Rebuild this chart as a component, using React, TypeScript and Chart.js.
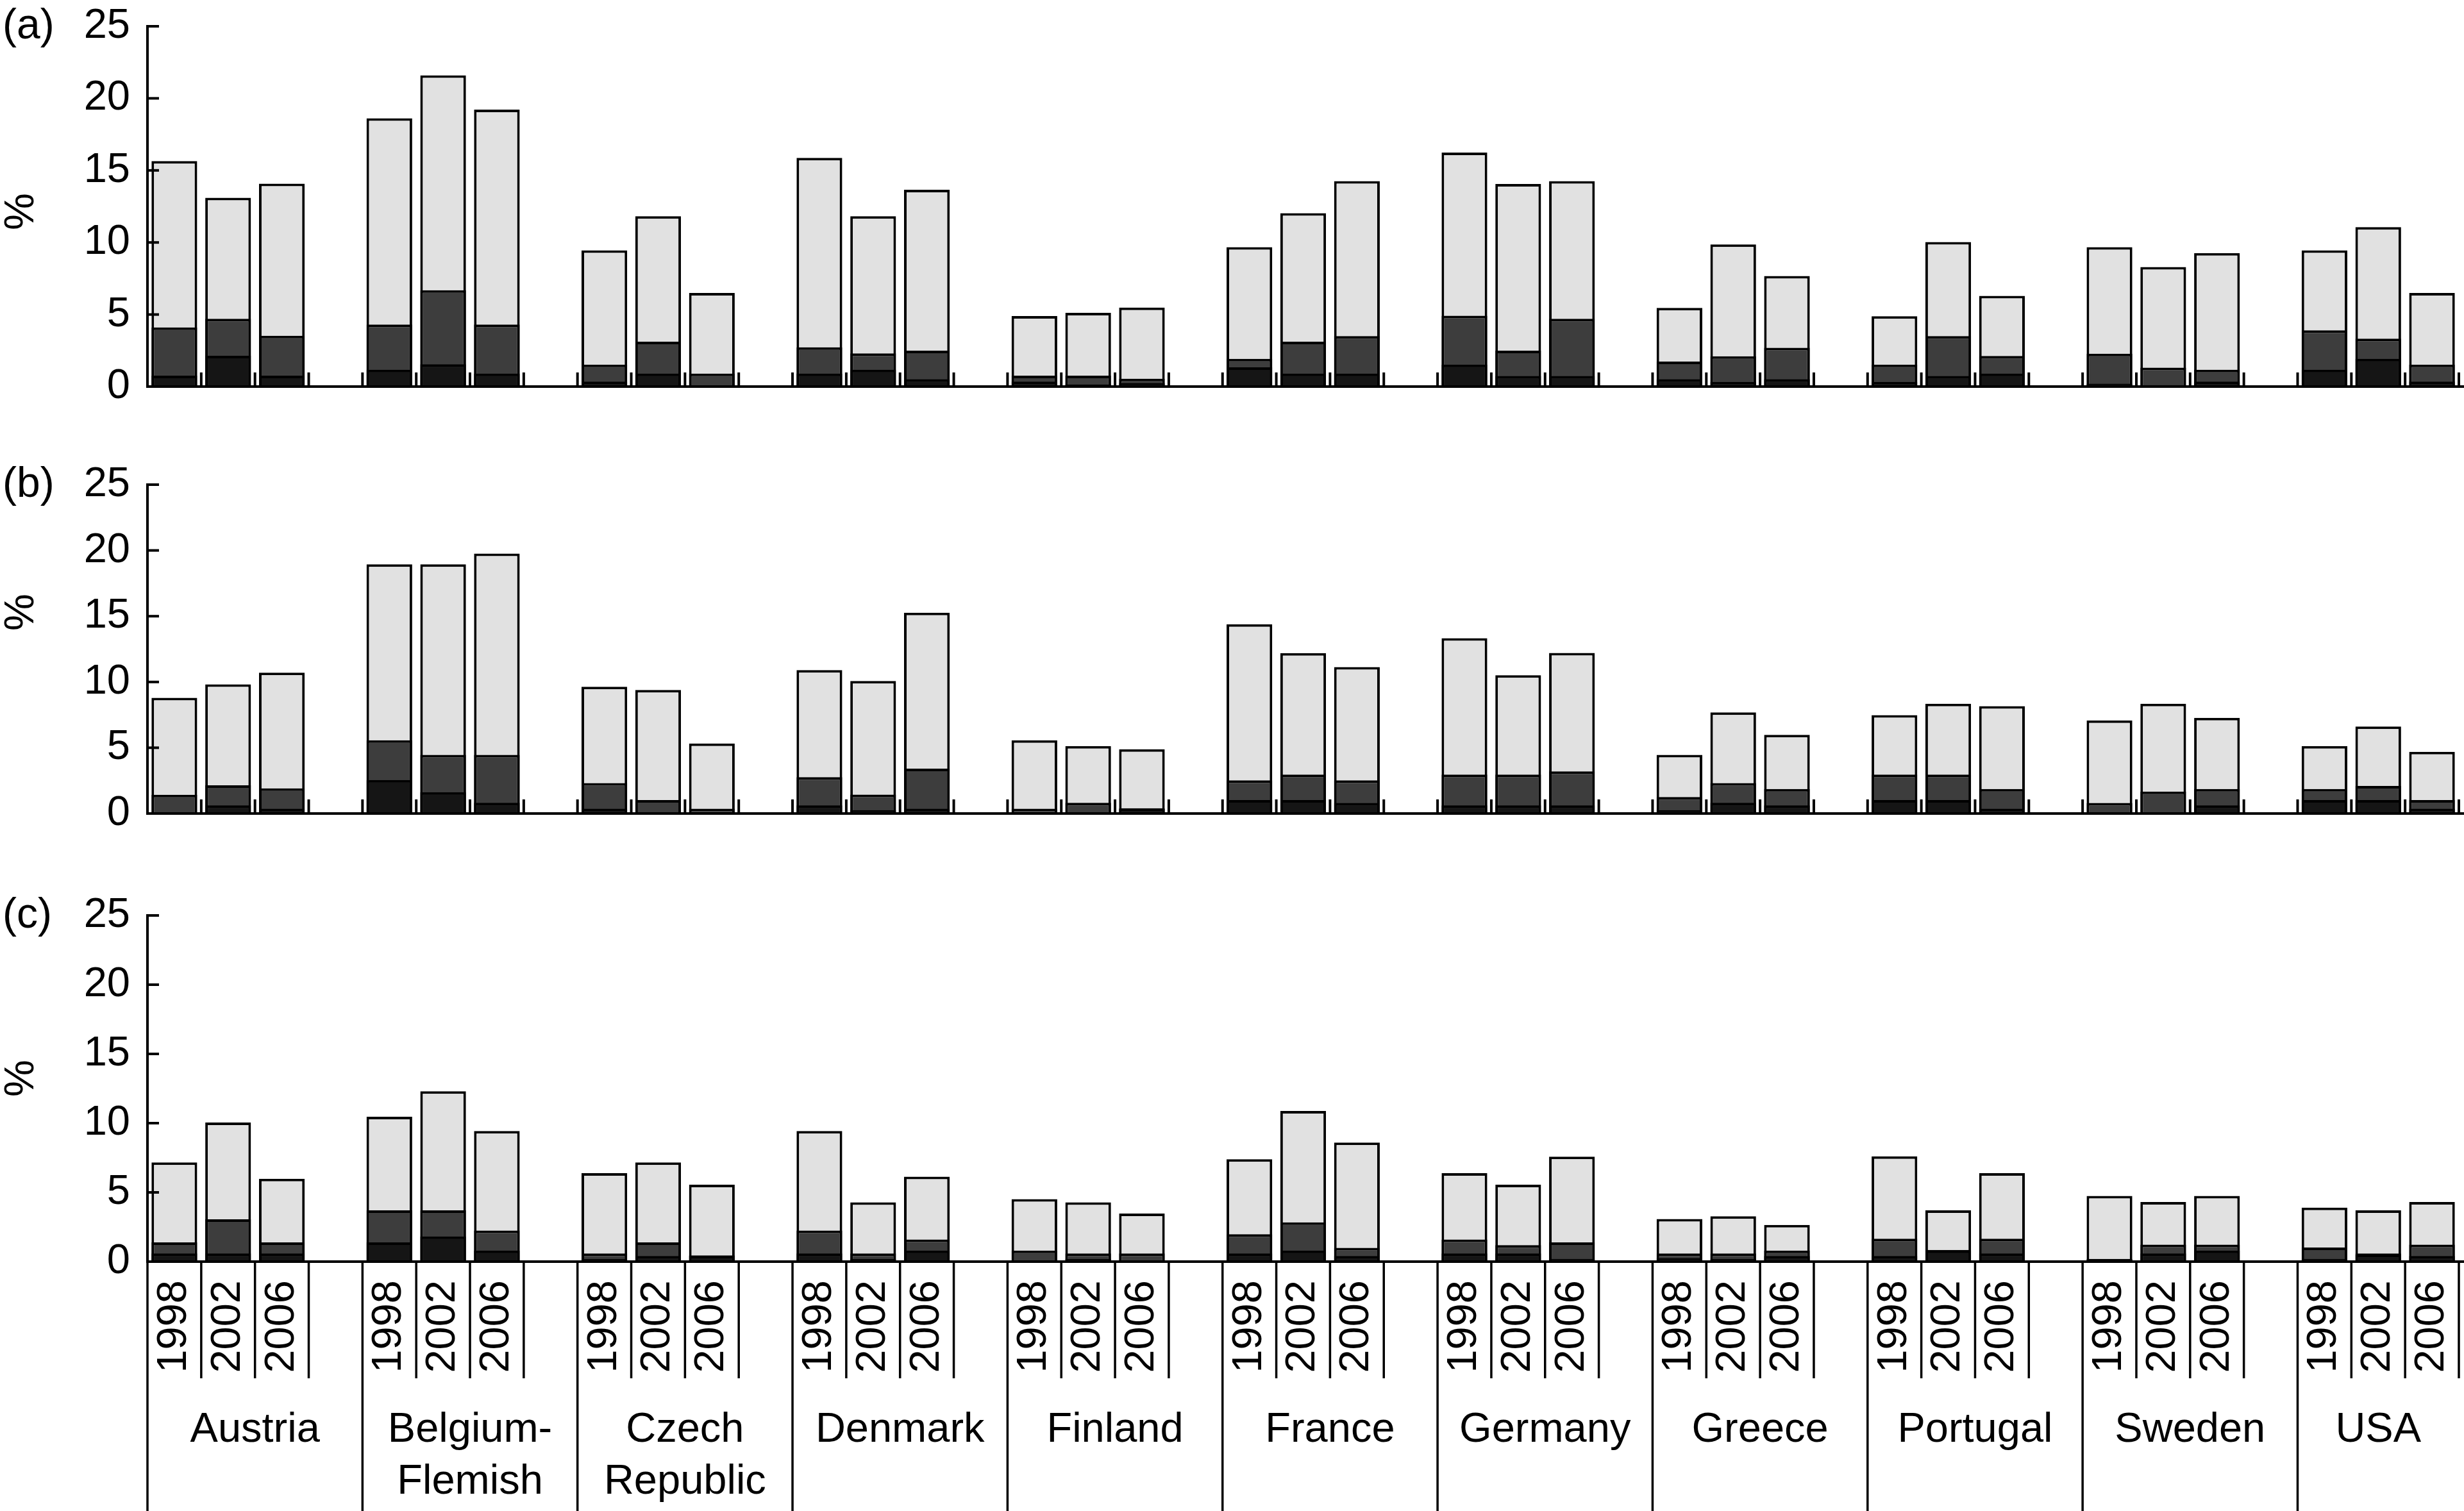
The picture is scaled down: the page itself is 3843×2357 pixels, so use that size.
import React, { useEffect, useRef } from 'react';
import { Chart, registerables } from 'chart.js';

Chart.register(...registerables);

const W = 3843;
const H = 2357;
const FONT = "'Liberation Sans', Arial, Helvetica, sans-serif";

// ---------- data ----------
const countries: string[][] = [
  ['Austria'],
  ['Belgium-', 'Flemish'],
  ['Czech', 'Republic'],
  ['Denmark'],
  ['Finland'],
  ['France'],
  ['Germany'],
  ['Greece'],
  ['Portugal'],
  ['Sweden'],
  ['USA'],
];
const years = ['1998', '2002', '2006'];
const yTickStep = 5;
const yMax = 25;

// panel (a): cumulative heights (top of light bar, top of dark segment, top of black segment)
const aTotal = [15.65, 13.1, 14.08, 18.62, 21.6, 19.22, 9.45, 11.82, 6.5, 15.87, 11.82, 13.66, 4.89, 5.12, 5.48, 9.68, 12.03, 14.26, 16.24, 14.06, 14.26, 5.46, 9.86, 7.67, 4.88, 10.03, 6.29, 9.68, 8.3, 9.26, 9.45, 11.06, 6.5];
const aMid = [4.1, 4.7, 3.53, 4.3, 6.68, 4.3, 1.52, 3.11, 0.9, 2.72, 2.3, 2.49, 0.76, 0.76, 0.55, 1.92, 3.11, 3.5, 4.91, 2.49, 4.7, 1.73, 2.1, 2.69, 1.52, 3.5, 2.12, 2.28, 1.31, 1.17, 3.9, 3.32, 1.52];
const aLow = [0.76, 2.14, 0.76, 1.17, 1.55, 0.9, 0.34, 0.9, null, 0.9, 1.17, 0.51, 0.34, 0.15, 0.25, 1.34, 0.9, 0.9, 1.52, 0.73, 0.73, 0.51, 0.32, 0.51, 0.32, 0.73, 0.9, 0.2, 0.1, 0.34, 1.17, 1.92, 0.34];

// panel (b)
const bTotal = [8.8, 9.82, 10.71, 18.95, 18.95, 19.76, 9.64, 9.39, 5.33, 10.9, 10.07, 15.27, 5.57, 5.13, 4.89, 14.39, 12.19, 11.14, 13.33, 10.52, 12.21, 4.46, 7.69, 5.98, 7.48, 8.35, 8.16, 7.08, 8.35, 7.27, 5.13, 6.62, 4.69];
const bMid = [1.42, 2.15, 1.91, 5.57, 4.46, 4.46, 2.31, 1.02, 0.37, 2.76, 1.44, 3.41, 0.37, 0.82, 0.4, 2.52, 2.96, 2.52, 2.96, 2.96, 3.2, 1.26, 2.31, 1.87, 2.96, 2.96, 1.87, 0.81, 1.67, 1.87, 1.87, 2.1, 1.02];
const bLow = [null, 0.62, 0.37, 2.55, 1.62, 0.82, 0.37, null, null, 0.62, 0.25, 0.37, null, null, 0.35, 1.02, 1.02, 0.81, 0.62, 0.62, 0.62, 0.25, 0.82, 0.62, 1.02, 1.02, 0.37, null, null, 0.62, 1.02, 1.02, 0.37];

// panel (c)
const cTotal = [7.16, 10.05, 5.98, 10.46, 12.3, 9.43, 6.39, 7.16, 5.56, 9.43, 4.28, 6.13, 4.51, 4.28, 3.47, 7.4, 10.88, 8.6, 6.39, 5.55, 7.58, 3.08, 3.27, 2.65, 7.6, 3.7, 6.39, 4.74, 4.31, 4.74, 3.9, 3.7, 4.31];
const cMid = [1.39, 3.05, 1.39, 3.7, 3.7, 2.25, 0.59, 1.39, 0.45, 2.25, 0.59, 1.6, 0.8, 0.59, 0.59, 1.98, 2.84, 1.0, 1.6, 1.19, 1.39, 0.59, 0.59, 0.8, 1.65, 0.85, 1.65, 0.2, 1.23, 1.23, 1.02, 0.59, 1.23];
const cLow = [0.59, 0.59, 0.59, 1.39, 1.82, 0.8, 0.2, 0.4, 0.4, 0.59, 0.2, 0.8, null, 0.2, null, 0.59, 0.8, 0.4, 0.59, 0.59, 0.2, 0.25, 0.2, 0.4, 0.4, 0.8, 0.59, 0.15, 0.59, 0.8, 0.2, 0.5, 0.4];

// ---------- helpers ----------
const perGroup = years.length + 1; // 3 bars + one empty slot

function toSlots(vals: (number | null)[]) {
  const out: (number | null)[] = [];
  for (let g = 0; g < countries.length; g++) {
    for (let k = 0; k < years.length; k++) out.push(vals[g * years.length + k] ?? null);
    if (g < countries.length - 1) out.push(null);
  }
  return out;
}

const slotLabels: string[] = [];
for (let g = 0; g < countries.length; g++) {
  for (let k = 0; k < years.length; k++) slotLabels.push(years[k]);
  if (g < countries.length - 1) slotLabels.push('');
}

type Panel = {
  id: string;
  total: (number | null)[];
  mid: (number | null)[];
  low: (number | null)[];
  top: number;
  zero: number;
  pctY: number;
  labels: boolean;
};

const panels: Panel[] = [
  { id: '(a)', total: aTotal, mid: aMid, low: aLow, top: 41, zero: 603, pctY: 330, labels: false },
  { id: '(b)', total: bTotal, mid: bMid, low: bLow, top: 756, zero: 1269, pctY: 955, labels: false },
  { id: '(c)', total: cTotal, mid: cMid, low: cLow, top: 1428, zero: 1968, pctY: 1682, labels: true },
];

const decor = {
  id: 'decor',
  afterDraw(chart: any, _args: any, opts: any) {
    const { ctx, chartArea: area } = chart;
    const xs = chart.scales.x;
    const ys = chart.scales.y;
    const y0 = ys.getPixelForValue(0);
    const slotW = xs.getPixelForValue(1) - xs.getPixelForValue(0);
    const edge = (i: number) => xs.getPixelForValue(0) + (i - 0.5) * slotW;
    const line = (x1: number, y1: number, x2: number, y2: number) => {
      ctx.beginPath();
      ctx.moveTo(x1, y1);
      ctx.lineTo(x2, y2);
      ctx.stroke();
    };
    ctx.save();
    ctx.strokeStyle = '#000';
    ctx.fillStyle = '#000';
    ctx.lineCap = 'butt';

    // y ticks (inward)
    ctx.lineWidth = 4;
    for (const t of ys.ticks) {
      const y = ys.getPixelForValue(t.value);
      line(area.left, y, area.left + 18, y);
    }

    // slot boundaries
    const nSlots = slotLabels.length;
    for (let g = 0; g < countries.length; g++) {
      const s = g * perGroup;
      for (let k = 0; k <= years.length; k++) {
        const x = edge(Math.min(s + k, nSlots));
        if (opts.labels) {
          ctx.lineWidth = 3.5;
          line(x, y0, x, k === 0 ? chart.height : 2150);
        } else {
          ctx.lineWidth = 4;
          line(x, y0, x, y0 - 22);
        }
      }
    }

    // baseline
    ctx.lineWidth = 4;
    line(area.left - 2, y0, chart.width, y0);

    // country names
    if (opts.labels) {
      ctx.font = `65px ${FONT}`;
      ctx.textAlign = 'center';
      ctx.textBaseline = 'alphabetic';
      for (let g = 0; g < countries.length; g++) {
        const s = g * perGroup;
        const cx = (edge(s) + edge(Math.min(s + perGroup, nSlots))) / 2;
        countries[g].forEach((txt, i) => ctx.fillText(txt, cx, 2249 + i * 81));
      }
    }

    // panel label
    ctx.font = `66px ${FONT}`;
    ctx.textAlign = 'left';
    ctx.textBaseline = 'middle';
    ctx.fillText(opts.id, 4, ys.getPixelForValue(yMax) + 1);

    // % title
    ctx.translate(34, opts.pctY);
    ctx.rotate(-Math.PI / 2);
    ctx.textAlign = 'center';
    ctx.textBaseline = 'middle';
    ctx.font = `65px ${FONT}`;
    ctx.fillText('%', 0, 0);
    ctx.restore();
  },
};

function makeChart(canvas: HTMLCanvasElement, p: Panel) {
  return new Chart(canvas, {
    type: 'bar',
    data: {
      labels: slotLabels,
      datasets: [
        { data: toSlots(p.low), backgroundColor: '#151515' },
        { data: toSlots(p.mid), backgroundColor: '#3d3d3d' },
        { data: toSlots(p.total), backgroundColor: '#e1e1e1' },
      ],
    },
    options: {
      responsive: false,
      animation: false,
      devicePixelRatio: 1,
      layout: { padding: { top: p.top, right: 8, left: 0, bottom: 0 } },
      datasets: {
        bar: {
          grouped: false,
          categoryPercentage: 1,
          barPercentage: 0.85,
          borderColor: '#000',
          borderWidth: 4,
          borderSkipped: 'start',
        },
      },
      plugins: {
        legend: { display: false },
        tooltip: { enabled: false },
        decor: { id: p.id, pctY: p.pctY, labels: p.labels },
      },
      scales: {
        x: {
          type: 'category',
          offset: true,
          grid: { display: false, drawTicks: false },
          border: { display: false },
          ticks: {
            display: p.labels,
            autoSkip: false,
            minRotation: 90,
            maxRotation: 90,
            padding: 29,
            color: '#000',
            font: { size: 65, family: FONT },
          },
          afterFit: (s: any) => {
            s.height = H - p.zero;
            s.paddingLeft = 0;
            s.paddingRight = 0;
          },
        },
        y: {
          min: 0,
          max: yMax,
          ticks: { stepSize: yTickStep, padding: 27, color: '#000', font: { size: 65, family: FONT } },
          grid: { display: false, drawTicks: false },
          border: { display: true, width: 4, color: '#000' },
          afterFit: (s: any) => {
            s.width = 230;
            s.paddingTop = 0;
            s.paddingBottom = 0;
          },
        },
      },
    } as any,
    plugins: [decor as any],
  });
}

export default function App() {
  const r0 = useRef<HTMLCanvasElement>(null);
  const r1 = useRef<HTMLCanvasElement>(null);
  const r2 = useRef<HTMLCanvasElement>(null);
  const refs = [r0, r1, r2];

  useEffect(() => {
    Chart.defaults.font.family = FONT;
    const charts = panels.map((p, i) => makeChart(refs[i].current as HTMLCanvasElement, p));
    return () => charts.forEach((c) => c.destroy());
  }, []);

  return (
    <div style={{ position: 'absolute', left: 0, top: 0, width: W, height: H, background: '#fff', overflow: 'hidden' }}>
      {panels.map((p, i) => (
        <canvas
          key={p.id}
          ref={refs[i]}
          width={W}
          height={H}
          style={{ position: 'absolute', left: 0, top: 0, width: W, height: H }}
        />
      ))}
    </div>
  );
}
